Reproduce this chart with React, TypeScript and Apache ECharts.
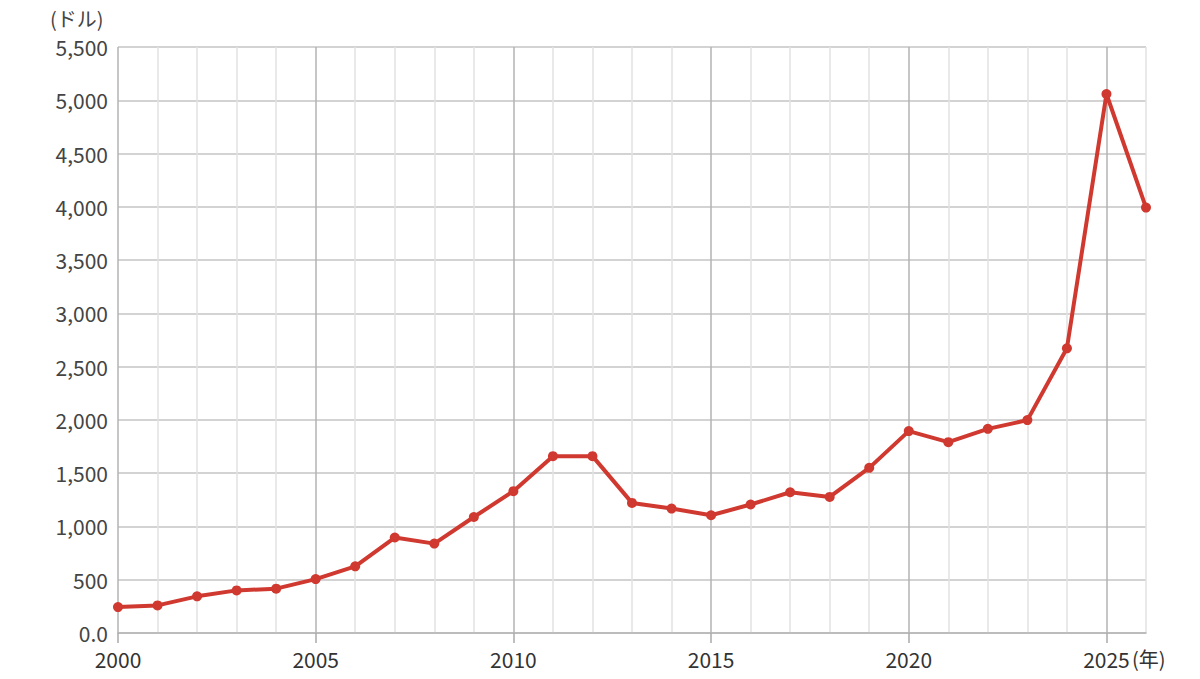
import React, { useEffect, useRef } from "react";
import * as echarts from "echarts";

const years = [
  "2000", "2001", "2002", "2003", "2004", "2005", "2006", "2007", "2008", "2009",
  "2010", "2011", "2012", "2013", "2014", "2015", "2016", "2017", "2018", "2019",
  "2020", "2021", "2022", "2023", "2024", "2025", "2026",
];
const prices = [
  243, 259, 344, 400, 416, 506, 626, 896, 839, 1089,
  1331, 1660, 1660, 1221, 1168, 1105, 1206, 1321, 1277, 1550,
  1895, 1791, 1916, 1998, 2672, 5059, 3993,
];
const yUnit = "(ドル)";
const xUnit = "(年)";

const FONT = "'Noto Sans CJK JP', 'Noto Sans', sans-serif";

export default function App() {
  const ref = useRef<HTMLDivElement>(null);
  useEffect(() => {
    if (!ref.current) return;
    const chart = echarts.init(ref.current, undefined, { renderer: "svg" });
    chart.setOption({
      animation: false,
      backgroundColor: "#ffffff",
      grid: { left: 118, right: 54, top: 47, bottom: 46 },
      xAxis: {
        type: "category",
        data: years,
        boundaryGap: false,
        axisLine: { show: true, lineStyle: { color: "#b5b5b5", width: 1.5 } },
        axisTick: {
          show: true,
          length: 10,
          interval: (i: number) => i % 5 === 0,
          lineStyle: { color: "#aaaaaa", width: 1.5 },
        },
        axisLabel: {
          interval: (i: number) => i % 5 === 0,
          color: "#333333",
          fontSize: 21,
          fontFamily: FONT,
          margin: 15,
        },
        splitLine: {
          show: true,
          interval: 0,
          lineStyle: {
            color: ["#b3b3b3", "#e2e2e2", "#e2e2e2", "#e2e2e2", "#e2e2e2"],
            width: 1.5,
          },
        },
      },
      yAxis: {
        type: "value",
        min: 0,
        max: 5500,
        interval: 500,
        axisLine: { show: false },
        axisTick: { show: false },
        axisLabel: {
          color: "#444444",
          fontSize: 21,
          fontFamily: FONT,
          margin: 10,
          formatter: (v: number) => (v === 0 ? "0.0" : v.toLocaleString("en-US")),
        },
        splitLine: { show: true, lineStyle: { color: "#c4c4c4", width: 1.5 } },
      },
      graphic: [
        {
          type: "text",
          left: 50,
          top: 8,
          style: { text: yUnit, fontSize: 20, fontFamily: FONT, fill: "#444444" },
        },
        {
          type: "text",
          left: 1132,
          top: 648,
          style: { text: xUnit, fontSize: 20, fontFamily: FONT, fill: "#333333" },
        },
      ],
      series: [
        {
          type: "line",
          data: prices,
          symbol: "circle",
          symbolSize: 10,
          lineStyle: { color: "#d0392f", width: 4 },
          itemStyle: { color: "#d0392f" },
        },
      ],
    });
    return () => chart.dispose();
  }, []);
  return (
    <div
      ref={ref}
      style={{ position: "fixed", left: 0, top: 0, width: 1200, height: 679 }}
    />
  );
}
